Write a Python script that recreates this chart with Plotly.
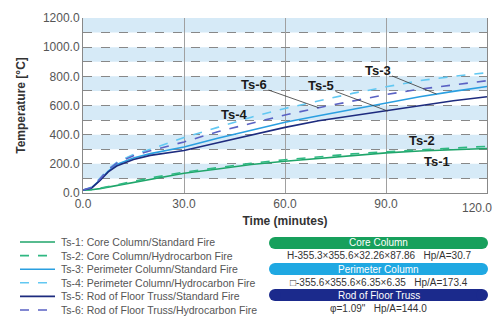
import numpy as np
import plotly.graph_objects as go

# ---------------- data ----------------
time_min = [0, 2.5, 5, 7.5, 10, 15, 20, 30, 40, 50, 60, 70, 80, 90, 100, 110, 120]
ts1 = [20, 22, 30, 40, 52, 75, 95, 135, 165, 195, 218, 238, 258, 275, 288, 298, 305]
ts2 = [20, 23, 33, 45, 58, 82, 103, 143, 175, 204, 228, 250, 268, 283, 297, 310, 320]
ts3 = [20, 35, 88, 150, 195, 240, 270, 315, 375, 432, 485, 530, 575, 617, 660, 697, 730]
ts4 = [20, 40, 100, 165, 210, 265, 300, 380, 450, 520, 580, 632, 683, 728, 770, 800, 825]
ts5 = [20, 33, 85, 145, 185, 230, 258, 292, 345, 400, 450, 495, 530, 560, 600, 632, 660]
ts6 = [20, 38, 95, 160, 205, 255, 290, 350, 420, 480, 535, 585, 632, 675, 712, 742, 770]

series_names = [
    "Ts-1: Core Column/Standard Fire",
    "Ts-2: Core Column/Hydrocarbon Fire",
    "Ts-3: Perimeter Column/Standard Fire",
    "Ts-4: Perimeter Column/Hydrocarbon Fire",
    "Ts-5: Rod of Floor Truss/Standard Fire",
    "Ts-6: Rod of Floor Truss/Hydrocarbon Fire",
]
series_values = [ts1, ts2, ts3, ts4, ts5, ts6]
series_colors = ["#1fa56a", "#2fb882", "#2a9fe0", "#62c8f2", "#1d2b7e", "#5a62c4"]
series_dash = ["solid", "dash", "solid", "dash", "solid", "dash"]

x_ticks = [0, 30, 60, 90, 120]
x_ticktext = ["0.0", "30.0", "60.0", "90.0", ""]
y_ticks = [0, 200, 400, 600, 800, 1000, 1200]
y_ticktext = ["0.0", "200.0", "400.0", "600.0", "800.0", "1000.0", "1200.0"]

box_titles = ["Core Column", "Perimeter Column", "Rod of Floor Truss"]
box_specs = ["H-355.3×355.6×32.26×87.86   Hp/A=30.7",
             "□-355.6×355.6×6.35×6.35   Hp/A=173.4",
             "φ=1.09\"   Hp/A=144.0"]
box_colors = ["#17a05c", "#1fa8e2", "#1b2a8c"]

# ---------------- layout geometry ----------------
W, H = 497, 324
ML, MR, MT, MB = 83, 10, 18, 131
PW = W - ML - MR
PH = H - MT - MB


def pxx(px):
    return (px - ML) / PW


def pxy(py):
    return (H - MB - py) / PH


fig = go.Figure()
for name, vals, col, dash in zip(series_names, series_values, series_colors, series_dash):
    fig.add_trace(go.Scatter(x=time_min, y=vals, mode="lines", name=name, showlegend=False,
                             line=dict(color=col, width=1.6, dash=dash)))

shapes = []
annotations = []
# alternating light-blue bands
for lo in range(100, 1200, 200):
    shapes.append(dict(type="rect", xref="paper", yref="y", x0=0, x1=1, y0=lo, y1=lo + 100,
                       fillcolor="#d6eaf7", line=dict(width=0), layer="below"))

# legend (drawn by hand for the tight row spacing)
leg_top, leg_step = 242, 13.6
for i, (name, col, dash) in enumerate(zip(series_names, series_colors, series_dash)):
    yy = leg_top + i * leg_step
    shapes.append(dict(type="line", xref="paper", yref="paper",
                       x0=pxx(20), x1=pxx(55), y0=pxy(yy), y1=pxy(yy),
                       line=dict(color=col, width=1.6, dash=dash)))
    annotations.append(dict(xref="paper", yref="paper", x=pxx(59), y=pxy(yy), text=name,
                            showarrow=False, xanchor="left", yanchor="middle",
                            font=dict(size=10.5, color="#555")))

# pill boxes
pill_tops = [237, 263, 289]
pill_h = 12
px0, px1 = 269, 488
r = pill_h / 2
for top, col in zip(pill_tops, box_colors):
    shapes.append(dict(type="rect", xref="paper", yref="paper",
                       x0=pxx(px0 + r), x1=pxx(px1 - r), y0=pxy(top + pill_h), y1=pxy(top),
                       fillcolor=col, line=dict(width=0)))
    for cx in (px0 + r, px1 - r):
        shapes.append(dict(type="circle", xref="paper", yref="paper",
                           x0=pxx(cx - r), x1=pxx(cx + r), y0=pxy(top + pill_h), y1=pxy(top),
                           fillcolor=col, line=dict(width=0)))

for top, title, spec in zip(pill_tops, box_titles, box_specs):
    annotations.append(dict(xref="paper", yref="paper", x=pxx((px0 + px1) / 2),
                            y=pxy(top + pill_h / 2), text=title, showarrow=False,
                            font=dict(size=10, color="white"),
                            xanchor="center", yanchor="middle"))
    annotations.append(dict(xref="paper", yref="paper", x=pxx((px0 + px1) / 2),
                            y=pxy(top + pill_h + 7), text=spec, showarrow=False,
                            font=dict(size=10, color="#333"),
                            xanchor="center", yanchor="middle"))

# series labels
lab_font = dict(size=13, color="#1a1a1a")
arrow_labels = [("Ts-6", 70, ts6, 50.8, 741), ("Ts-5", 90.5, ts5, 70.7, 734),
                ("Ts-3", 105, ts3, 87.5, 843)]
for txt, tx, vals, ax, ay in arrow_labels:
    annotations.append(dict(x=tx, y=float(np.interp(tx, time_min, vals)), xref="x", yref="y",
                            ax=ax, ay=ay, axref="x", ayref="y", text="<b>%s</b>" % txt,
                            showarrow=True, arrowhead=0, arrowwidth=0.8, arrowcolor="#333",
                            standoff=0, font=lab_font))
plain_labels = [("Ts-4", 45.1, 535), ("Ts-2", 100.7, 357), ("Ts-1", 105.1, 219)]
for txt, x, y in plain_labels:
    annotations.append(dict(x=x, y=y, xref="x", yref="y", text="<b>%s</b>" % txt,
                            showarrow=False, font=lab_font))

# last x tick label, kept inside the picture
annotations.append(dict(x=120, y=0, xref="x", yref="y", text="120.0", showarrow=False,
                        xanchor="right", yanchor="top", xshift=7, yshift=-6,
                        font=dict(size=12, color="#555")))

fig.update_layout(
    width=W, height=H,
    margin=dict(l=ML, r=MR, t=MT, b=MB, pad=0, autoexpand=False),
    paper_bgcolor="white", plot_bgcolor="white",
    shapes=shapes, annotations=annotations,
    font=dict(family="Arial, Liberation Sans", color="#444"),
    showlegend=False,
    xaxis=dict(range=[0, 120], tickvals=x_ticks, ticktext=x_ticktext, automargin=False,
               showgrid=True, gridcolor="#a0a0a0", gridwidth=0.8,
               showline=True, linecolor="#888", linewidth=1, ticks="", zeroline=False,
               tickfont=dict(size=12, color="#555"),
               title=dict(text="<b>Time (minutes)</b>", font=dict(size=12, color="#333"),
                          standoff=6)),
    yaxis=dict(range=[0, 1200], tickvals=y_ticks, ticktext=y_ticktext, automargin=False,
               showgrid=True, gridcolor="#888", gridwidth=0.7, griddash="dash",
               minor=dict(dtick=100, showgrid=True, gridcolor="#888", gridwidth=0.7,
                          griddash="dash"),
               showline=True, linecolor="#888", linewidth=1, mirror=True, ticks="",
               zeroline=False,
               tickfont=dict(size=12, color="#555"),
               title=dict(text="<b>Temperature [°C]</b>", font=dict(size=12, color="#333"),
                          standoff=14)),
)

fig.write_html("out.html")
